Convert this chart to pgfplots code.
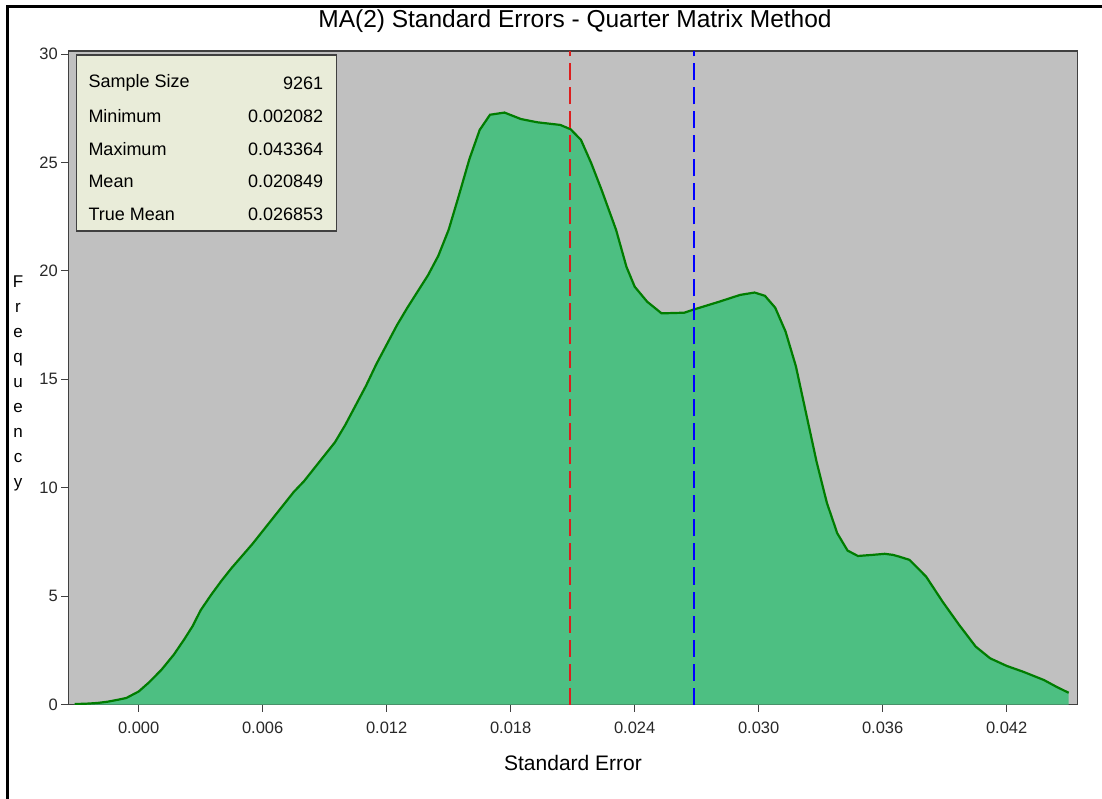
\documentclass[border=0pt]{standalone}
\usepackage{pgfplots}
\pgfplotsset{compat=1.18}
\usepackage{fontspec}
\setmainfont{Liberation Sans}
\definecolor{plotbg}{RGB}{192,192,192}
\definecolor{areafill}{RGB}{77,191,130}
\definecolor{curvegreen}{RGB}{0,125,0}
\definecolor{boxfill}{RGB}{233,236,217}
\definecolor{axisline}{RGB}{64,64,64}
\definecolor{ticktext}{RGB}{40,40,40}
\definecolor{meanred}{RGB}{220,30,30}
\definecolor{meanblue}{RGB}{0,0,255}

\pgfplotstableread{
x y
-0.0031 0.02
-0.0025 0.04
-0.0020 0.07
-0.0015 0.13
-0.0010 0.22
-0.0006 0.30
0.0000 0.60
0.0005 1.02
0.0011 1.60
0.0017 2.30
0.0022 3.00
0.0026 3.60
0.0030 4.35
0.0035 5.05
0.0040 5.70
0.0045 6.30
0.0050 6.85
0.0055 7.40
0.0060 8.00
0.0065 8.60
0.0070 9.20
0.0075 9.80
0.0080 10.30
0.0085 10.90
0.0090 11.50
0.0095 12.10
0.0100 12.90
0.0105 13.80
0.0110 14.70
0.0115 15.70
0.0120 16.60
0.0125 17.50
0.0130 18.30
0.0135 19.05
0.0140 19.80
0.0145 20.70
0.0150 21.90
0.0155 23.50
0.0160 25.15
0.0165 26.50
0.0170 27.20
0.0177 27.30
0.0185 27.00
0.0193 26.85
0.0204 26.73
0.0209 26.53
0.0214 26.04
0.0219 24.96
0.0224 23.73
0.0231 21.89
0.0236 20.19
0.0240 19.27
0.0246 18.58
0.0253 18.04
0.0264 18.07
0.0268 18.20
0.0281 18.58
0.0291 18.89
0.0298 19.00
0.0303 18.85
0.0308 18.30
0.0313 17.20
0.0318 15.60
0.0323 13.40
0.0328 11.20
0.0333 9.30
0.0338 7.90
0.0343 7.10
0.0348 6.85
0.0355 6.90
0.0361 6.95
0.0365 6.90
0.0368 6.82
0.0373 6.67
0.0381 5.90
0.0389 4.74
0.0397 3.67
0.0405 2.67
0.0412 2.13
0.0420 1.78
0.0428 1.51
0.0438 1.13
0.0444 0.82
0.0450 0.54
}\density

\begin{document}
\begin{tikzpicture}
\path[use as bounding box] (0pt,0pt) rectangle (1102pt,798pt);
\begin{axis}[
  at={(68.3pt,93.5pt)}, anchor=south west,
  scale only axis, width=1009pt, height=653.5pt,
  xmin=-0.003406, xmax=0.045416, ymin=0, ymax=30.14,
  axis background/.style={fill=plotbg},
  axis line style={axisline, line width=1.3pt},
  xtick={0,0.006,0.012,0.018,0.024,0.030,0.036,0.042},
  xticklabels={0.000,0.006,0.012,0.018,0.024,0.030,0.036,0.042},
  ytick={0,5,10,15,20,25,30},
  yticklabels={0,5,10,15,20,25,30},
  tick align=outside, xtick pos=left, ytick pos=left,
  major tick length=7pt,
  tick style={axisline, line width=1pt},
  ticklabel style={font=\fontsize{16.5}{20}\selectfont, text=ticktext},
  xticklabel style={yshift=-7pt},
  scaled x ticks=false,
]
\addplot[draw=none, fill=areafill] table[x=x,y=y] {\density} \closedcycle;
\addplot[draw=curvegreen, line width=2.2pt, mark=none] table[x=x,y=y] {\density};
\addplot[color=meanred, line width=2pt, mark=none, dash pattern=on 17pt off 7pt] coordinates {(0.020849,0) (0.020849,30.14)};
\addplot[color=meanblue, line width=2pt, mark=none, dash pattern=on 17pt off 7pt] coordinates {(0.026853,0) (0.026853,30.14)};
\end{axis}
\begin{scope}[x=1pt,y=1pt]
\draw[line width=3pt] (7.3,-5) -- (7.3,791.3) -- (1110,791.3);
\node[font=\fontsize{24.5}{29}\selectfont] at (575,776.5) {MA(2) Standard Errors - Quarter Matrix Method};
\node[font=\fontsize{21}{25}\selectfont] at (573,35) {Standard Error};
\node[font=\fontsize{17}{25}\selectfont, align=center] at (18,415) {F\\r\\e\\q\\u\\e\\n\\c\\y};
\draw[fill=boxfill, draw=axisline, line width=1.5pt] (76.7,743) rectangle (336.7,567);
\begin{scope}[font=\fontsize{18}{22}\selectfont, inner sep=0pt]
\node[anchor=west] at (88.3,714.7) {Sample Size};
\node[anchor=west] at (88.3,682) {Minimum};
\node[anchor=west] at (88.3,649) {Maximum};
\node[anchor=west] at (88.3,616.3) {Mean};
\node[anchor=west] at (88.3,584) {True Mean};
\node[anchor=east] at (323.3,714.7) {9261};
\node[anchor=east] at (323.3,682) {0.002082};
\node[anchor=east] at (323.3,649) {0.043364};
\node[anchor=east] at (323.3,616.3) {0.020849};
\node[anchor=east] at (323.3,584) {0.026853};
\end{scope}
\end{scope}
\end{tikzpicture}
\end{document}
